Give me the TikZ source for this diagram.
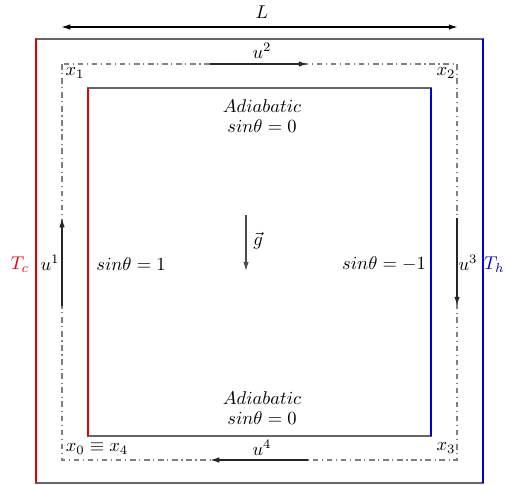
\documentclass[tikz,border=0pt]{standalone}
\usetikzlibrary{arrows.meta}
\begin{document}
\begin{tikzpicture}[x=0.019cm,y=-0.019cm,
  frame/.style={draw=gray!80!black,line width=0.6pt},
  dashframe/.style={draw=gray,line width=0.6pt,dash dot},
  hotwall/.style={draw=red!90!black,line width=1.4pt},
  coldwall/.style={draw=blue!85!black,line width=1.4pt},
  flow/.style={-{Latex[length=5pt,width=3pt]},line width=0.8pt,black!85},
  lbl/.style={inner sep=1pt}]
\useasboundingbox (0,0) rectangle (505,485);
% outer box
\draw[frame] (36,39) rectangle (483,483);
\draw[hotwall] (36,39) -- (36,483);
\draw[coldwall] (483,39) -- (483,483);
% dash-dot loop
\draw[dashframe] (62,64) rectangle (457,460);
% inner box
\draw[frame] (88,88) rectangle (431,436);
\draw[hotwall] (88,88) -- (88,436);
\draw[coldwall] (431,88) -- (431,436);
% L dimension
\coordinate (La) at (61,27);
\coordinate (Lb) at (458,27);
\draw[{Latex[length=5pt,width=3pt]}-{Latex[length=5pt,width=3pt]},line width=0.8pt] (La) -- (Lb);
\node[lbl] (L) at (262,12) {$L$};
% flow arrows
\coordinate (u2a) at (210,64); \coordinate (u2b) at (308,64);
\draw[flow] (u2a) -- (u2b);
\node[lbl] (u2) at (262,51) {$u^2$};
\coordinate (u4a) at (308,460); \coordinate (u4b) at (210,460);
\draw[flow] (u4a) -- (u4b);
\node[lbl] (u4) at (262,448) {$u^4$};
\coordinate (u1a) at (62,306); \coordinate (u1b) at (62,218);
\draw[flow] (u1a) -- (u1b);
\node[lbl] (u1) at (50,263) {$u^1$};
\coordinate (u3a) at (457,218); \coordinate (u3b) at (457,306);
\draw[flow] (u3a) -- (u3b);
\node[lbl] (u3) at (468,263) {$u^3$};
% gravity
\coordinate (ga) at (246,215); \coordinate (gb) at (246,271);
\draw[-{Latex[length=5pt,width=3pt]},line width=0.6pt,black!70] (ga) -- (gb);
\node[lbl] (g) at (258,241) {$\vec{g}$};
% temperatures
\node[lbl,text=red!90!black] (Tc) at (20,265) {$T_c$};
\node[inner sep=0pt,anchor=east,text=blue!85!black] (Th) at (505,265) {$T_h$};
% corner labels
\node[lbl] (x1) at (75,73) {$x_1$};
\node[lbl] (x2) at (446,73) {$x_2$};
\node[lbl] (x0) at (97,449) {$x_0\equiv x_4$};
\node[lbl] (x3) at (446,448) {$x_3$};
% wall labels
\node[lbl,align=center] (top) at (262,116) {$Adiabatic$\\[-1pt]$sin\theta=0$};
\node[lbl,align=center] (bot) at (262,408) {$Adiabatic$\\[-1pt]$sin\theta=0$};
\node[lbl] (s1) at (131,264) {$sin\theta=1$};
\node[lbl] (s2) at (384,264) {$sin\theta=-1$};
\end{tikzpicture}
\end{document}
